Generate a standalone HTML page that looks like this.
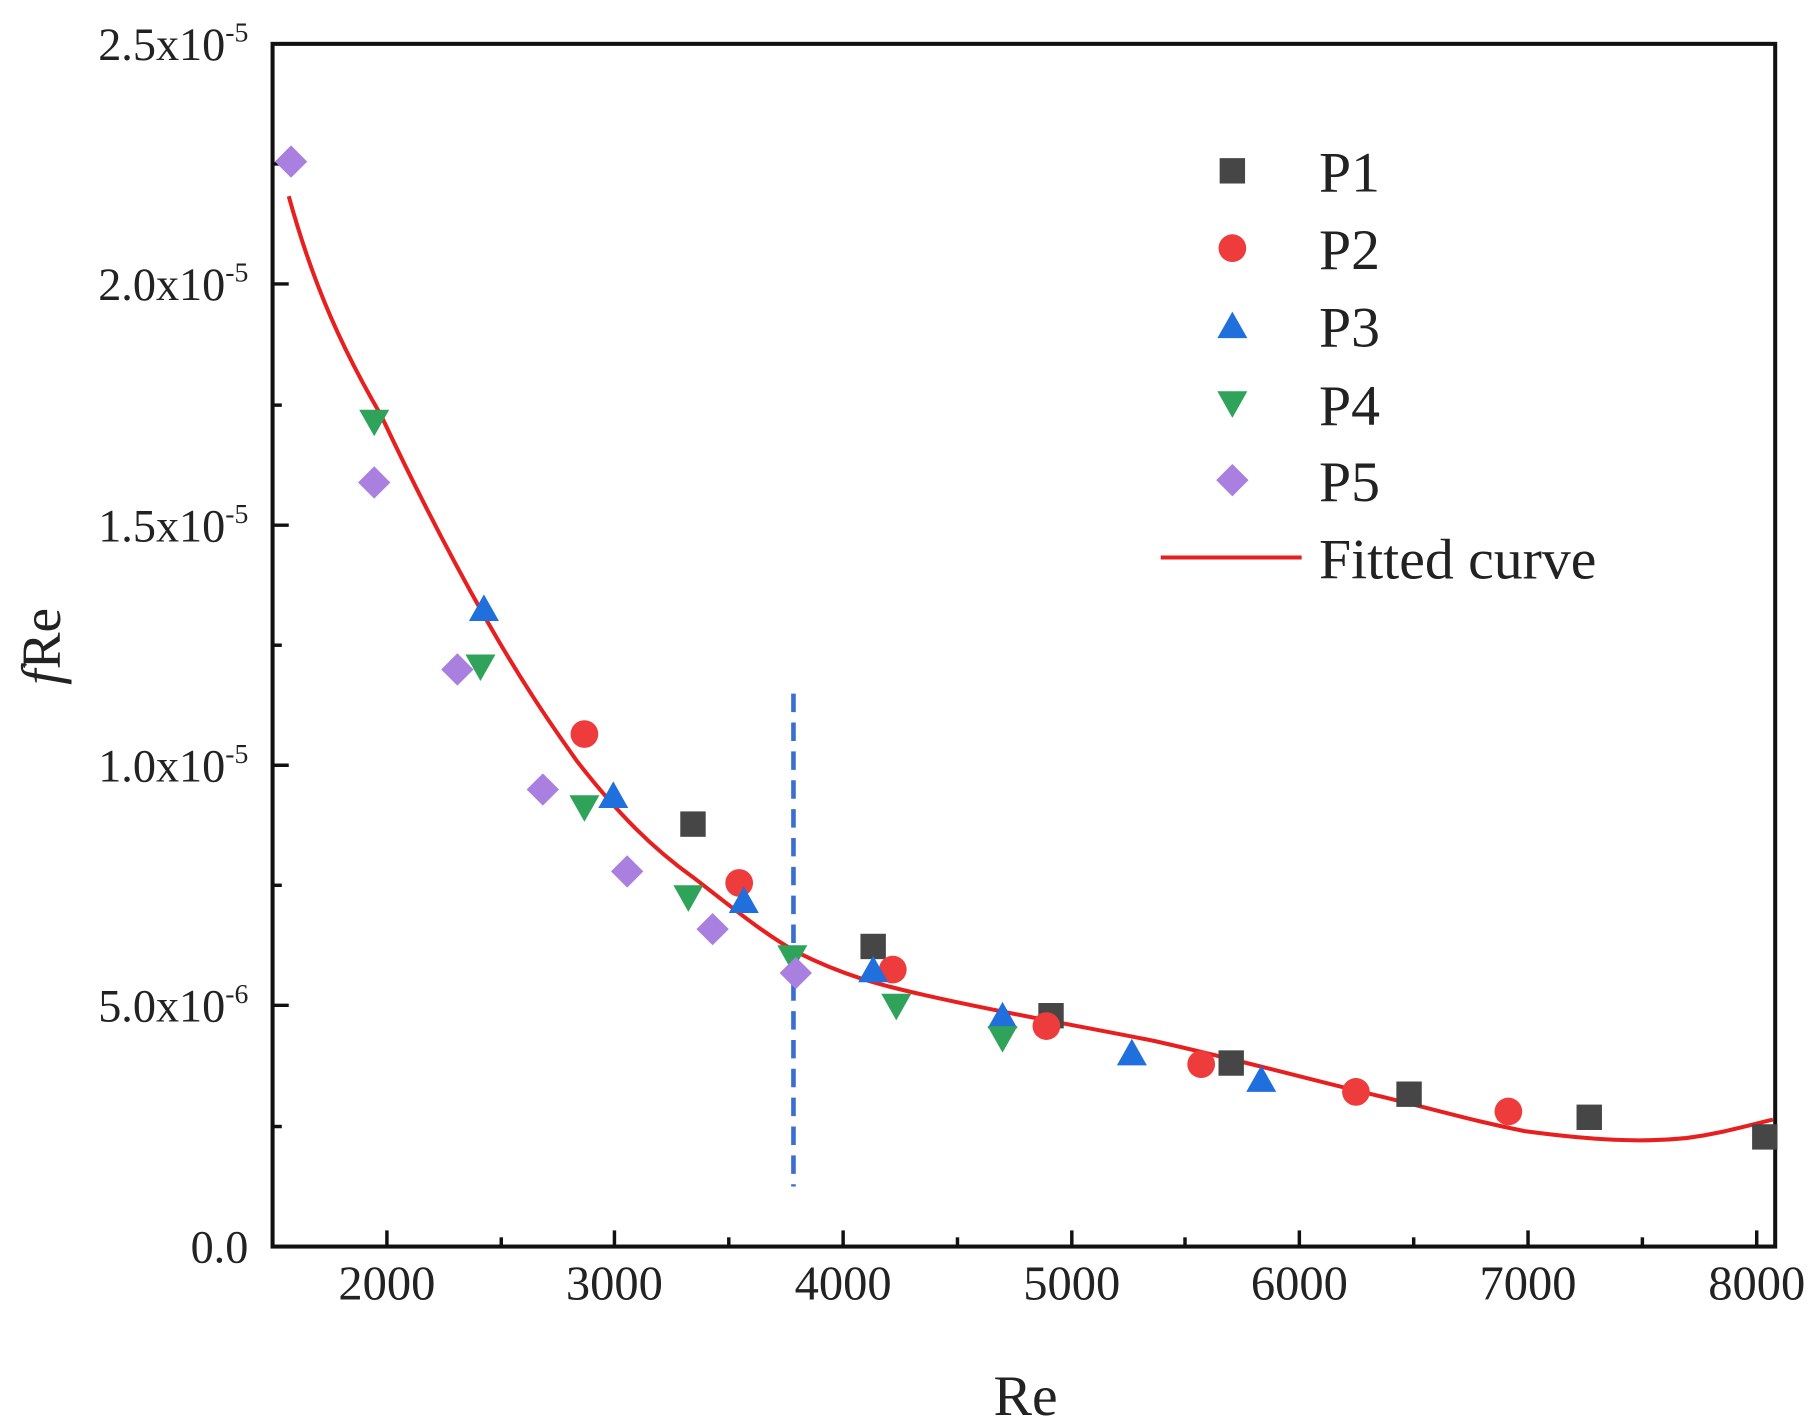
<!DOCTYPE html>
<html><head><meta charset="utf-8"><style>html,body{margin:0;padding:0;background:#fff}svg{display:block}</style></head>
<body>
<svg width="1811" height="1422" viewBox="0 0 1568 1232" preserveAspectRatio="none" xmlns="http://www.w3.org/2000/svg" font-family="Liberation Serif, serif">
<rect x="236" y="38" width="1301" height="1042" fill="none" stroke="#111" stroke-width="3.5"/>
<g stroke="#111" stroke-width="3">
<line x1="335" y1="1080" x2="335" y2="1066"/><line x1="532" y1="1080" x2="532" y2="1066"/><line x1="730" y1="1080" x2="730" y2="1066"/><line x1="928" y1="1080" x2="928" y2="1066"/><line x1="1125" y1="1080" x2="1125" y2="1066"/><line x1="1323" y1="1080" x2="1323" y2="1066"/><line x1="1521" y1="1080" x2="1521" y2="1066"/>
<line x1="434" y1="1080" x2="434" y2="1072"/><line x1="631" y1="1080" x2="631" y2="1072"/><line x1="829" y1="1080" x2="829" y2="1072"/><line x1="1026" y1="1080" x2="1026" y2="1072"/><line x1="1224" y1="1080" x2="1224" y2="1072"/><line x1="1422" y1="1080" x2="1422" y2="1072"/>
<line x1="236" y1="871" x2="250" y2="871"/><line x1="236" y1="663" x2="250" y2="663"/><line x1="236" y1="455" x2="250" y2="455"/><line x1="236" y1="246" x2="250" y2="246"/>
<line x1="236" y1="976" x2="244" y2="976"/><line x1="236" y1="767" x2="244" y2="767"/><line x1="236" y1="559" x2="244" y2="559"/><line x1="236" y1="351" x2="244" y2="351"/><line x1="236" y1="142" x2="244" y2="142"/>
</g>
<g font-size="42" fill="#222" text-anchor="middle">
<text x="335" y="1126">2000</text><text x="532" y="1126">3000</text><text x="730" y="1126">4000</text><text x="928" y="1126">5000</text><text x="1125" y="1126">6000</text><text x="1323" y="1126">7000</text><text x="1521" y="1126">8000</text>
</g>
<g font-size="40" fill="#222" text-anchor="end">
<text x="215" y="1094">0.0</text>
<text x="215" y="885">5.0x10<tspan font-size="24" dy="-16">-6</tspan></text>
<text x="215" y="677">1.0x10<tspan font-size="24" dy="-16">-5</tspan></text>
<text x="215" y="469">1.5x10<tspan font-size="24" dy="-16">-5</tspan></text>
<text x="215" y="260">2.0x10<tspan font-size="24" dy="-16">-5</tspan></text>
<text x="215" y="52">2.5x10<tspan font-size="24" dy="-16">-5</tspan></text>
</g>
<text x="888" y="1226" font-size="50" text-anchor="middle" fill="#222">Re</text>
<text transform="translate(52,560) rotate(-90)" font-size="48" text-anchor="middle" fill="#222"><tspan font-style="italic">f</tspan>Re</text>
<line x1="687" y1="601" x2="687" y2="1028" stroke="#3a6fd0" stroke-width="4" stroke-dasharray="16,9"/>
<path d="M250,170 C272,250 298,305 330,360 C362,428 390,482 420,535 C450,588 475,625 500,660 C535,705 565,735 600,760 C635,787 660,808 690,825 C730,845 760,853 800,862 C870,878 930,888 1000,902 C1080,920 1140,937 1200,951 C1260,966 1280,972 1320,980 C1380,988 1420,990 1460,986 C1490,982 1510,976 1535,970" fill="none" stroke="#e81f1f" stroke-width="3.5"/>
<g fill="#464646">
<rect x="589" y="703" width="22" height="22"/><rect x="745" y="809" width="22" height="22"/><rect x="899" y="869" width="22" height="22"/><rect x="1055" y="910" width="22" height="22"/><rect x="1209" y="937" width="22" height="22"/><rect x="1365" y="957" width="22" height="22"/><rect x="1517" y="974" width="22" height="22"/>
</g>
<g fill="#ee3b3b">
<circle cx="506" cy="636" r="12"/><circle cx="640" cy="765" r="12"/><circle cx="773" cy="840" r="12"/><circle cx="906" cy="889" r="12"/><circle cx="1040" cy="922" r="12"/><circle cx="1174" cy="946" r="12"/><circle cx="1306" cy="963" r="12"/>
</g>
<g fill="#1f6fdc">
<path d="M419,515 l13,23 h-26z"/><path d="M531,677 l13,23 h-26z"/><path d="M644,768 l13,23 h-26z"/><path d="M756,828 l13,23 h-26z"/><path d="M868,868 l13,23 h-26z"/><path d="M980,900 l13,23 h-26z"/><path d="M1092,923 l13,23 h-26z"/>
</g>
<g fill="#2fa35a">
<path d="M324,378 l13,-23 h-26z"/><path d="M416,590 l13,-23 h-26z"/><path d="M506,712 l13,-23 h-26z"/><path d="M596,790 l13,-23 h-26z"/><path d="M686,842 l13,-23 h-26z"/><path d="M776,884 l13,-23 h-26z"/><path d="M868,912 l13,-23 h-26z"/>
</g>
<g fill="#a97fe0">
<path d="M252,126 l14,14 l-14,14 l-14,-14z"/><path d="M324,404 l14,14 l-14,14 l-14,-14z"/><path d="M396,566 l14,14 l-14,14 l-14,-14z"/><path d="M470,670 l14,14 l-14,14 l-14,-14z"/><path d="M543,741 l14,14 l-14,14 l-14,-14z"/><path d="M617,791 l14,14 l-14,14 l-14,-14z"/><path d="M689,829 l14,14 l-14,14 l-14,-14z"/>
</g>
<rect x="1056" y="137" width="22" height="22" fill="#464646"/>
<circle cx="1067" cy="215" r="12" fill="#ee3b3b"/>
<path d="M1067,270 l13,23 h-26z" fill="#1f6fdc"/>
<path d="M1067,362 l13,-23 h-26z" fill="#2fa35a"/>
<path d="M1067,402 l14,14 l-14,14 l-14,-14z" fill="#a97fe0"/>
<line x1="1005" y1="483" x2="1127" y2="483" stroke="#e81f1f" stroke-width="3.5"/>
<g font-size="50" fill="#222">
<text x="1142" y="166">P1</text><text x="1142" y="233">P2</text><text x="1142" y="300">P3</text><text x="1142" y="368">P4</text><text x="1142" y="434">P5</text><text x="1142" y="501">Fitted curve</text>
</g>
</svg>
</body></html>
